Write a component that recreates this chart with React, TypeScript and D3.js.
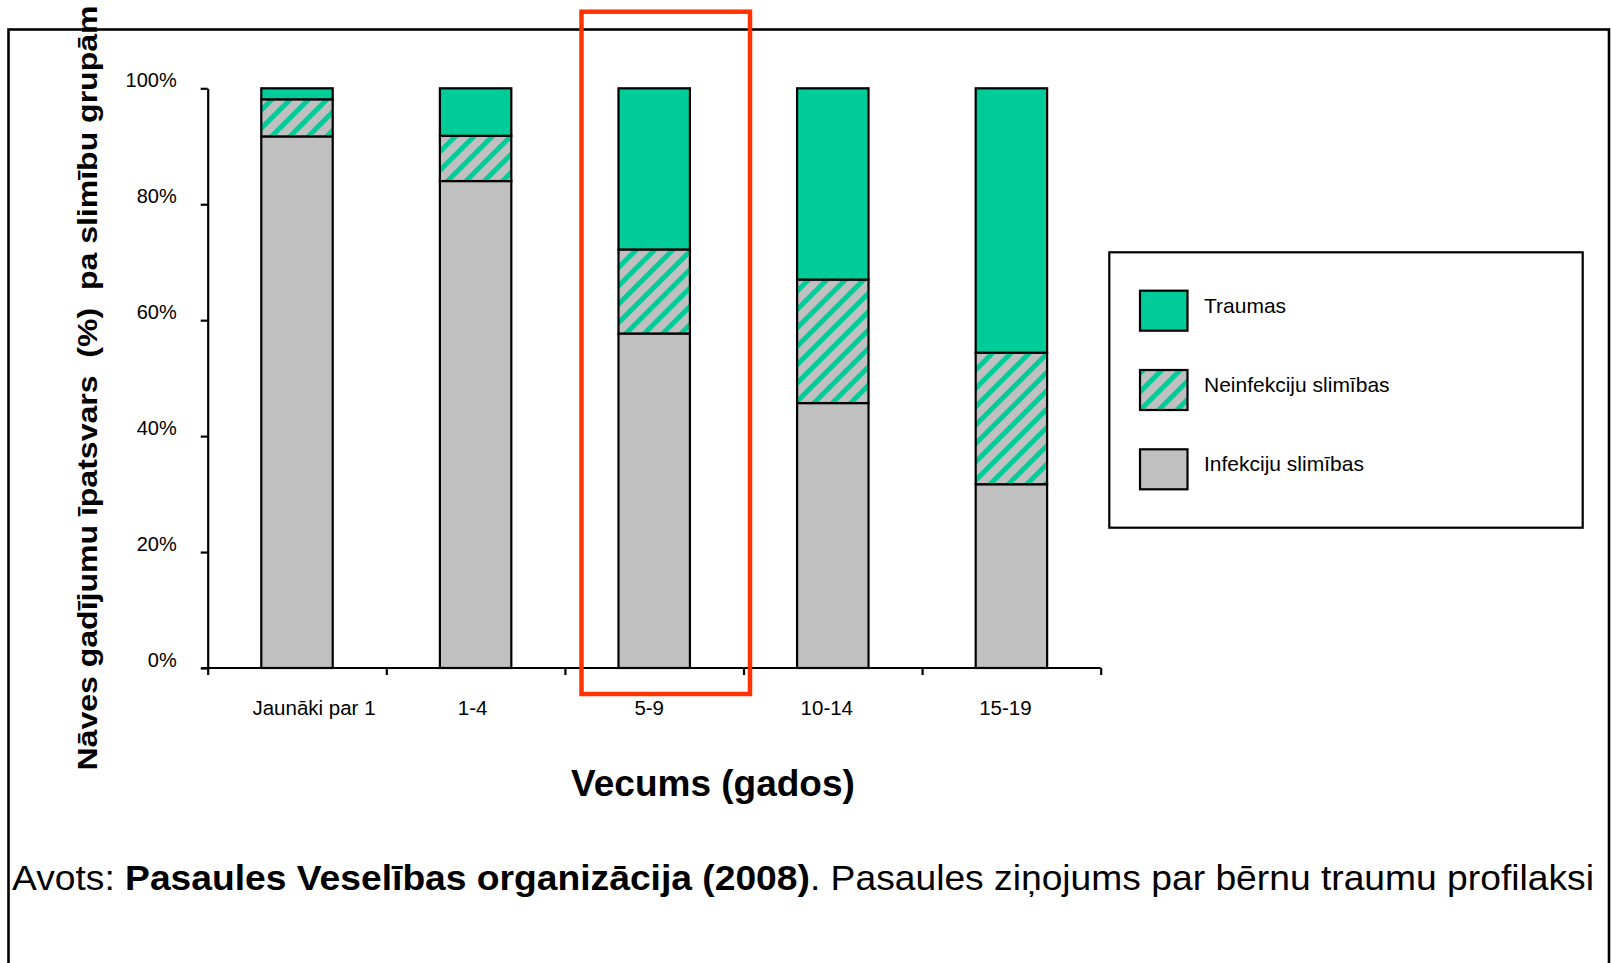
// react
import { useEffect, useRef } from "react";

// d3
import * as d3 from "d3";

const CATEGORIES = ["Jaunāki par 1", "1-4", "5-9", "10-14", "15-19"];
const INFEKCIJU = [91.7, 84.0, 57.7, 45.7, 31.7];
const NEINFEKCIJU = [6.4, 7.8, 14.5, 21.3, 22.7];
const TRAUMAS = [1.9, 8.2, 27.8, 33.0, 45.6];
const Y_TICKS = [0, 20, 40, 60, 80, 100];
const SERIES = ["Infekciju slimības", "Neinfekciju slimības", "Traumas"];
const LEGEND_ORDER = ["Traumas", "Neinfekciju slimības", "Infekciju slimības"];

const GREEN = "#00CC99";
const GRAY = "#C0C0C0";
const FONT = "'Liberation Sans', Arial, Helvetica, sans-serif";

// label nudges, as the labels sit in the original
const LABEL_DX = [17, -3, -5, -6, -6];

export default function App() {
  const ref = useRef<SVGSVGElement>(null);

  useEffect(() => {
    if (!ref.current) return;
    const svg = d3.select(ref.current);
    svg.selectAll("*").remove();

    const W = 1611;
    const H = 963;
    svg.attr("width", W).attr("height", H).attr("viewBox", `0 0 ${W} ${H}`);

    // hatch pattern
    const defs = svg.append("defs");
    const pat = defs
      .append("pattern")
      .attr("id", "hatch")
      .attr("patternUnits", "userSpaceOnUse")
      .attr("width", 13)
      .attr("height", 13)
      .attr("patternTransform", "rotate(45)");
    pat.append("rect").attr("width", 13).attr("height", 13).attr("fill", GRAY);
    pat.append("rect").attr("width", 5).attr("height", 13).attr("fill", GREEN);

    const colorOf = (k: string) =>
      k === "Traumas" ? GREEN : k === "Infekciju slimības" ? GRAY : "url(#hatch)";

    // outer frame
    svg
      .append("rect")
      .attr("x", 8.5)
      .attr("y", 29.5)
      .attr("width", 1600.5)
      .attr("height", 1000)
      .attr("fill", "none")
      .attr("stroke", "#000")
      .attr("stroke-width", 2.6);

    const left = 207.7;
    const right = 1100.7;
    const top = 88.3;
    const bottom = 668;

    const x = d3
      .scaleBand<string>()
      .domain(CATEGORIES)
      .range([left, right])
      .paddingInner(0.6)
      .paddingOuter(0.3);
    const y = d3.scaleLinear().domain([0, 100]).range([bottom, top]);

    const table = CATEGORIES.map((c, i) => ({
      cat: c,
      "Infekciju slimības": INFEKCIJU[i],
      "Neinfekciju slimības": NEINFEKCIJU[i],
      Traumas: TRAUMAS[i],
    }));
    const stacked = d3.stack<any>().keys(SERIES)(table);

    // bars
    stacked.forEach((layer) => {
      svg
        .append("g")
        .selectAll("rect")
        .data(layer)
        .join("rect")
        .attr("x", (d: any) => x(d.data.cat)!)
        .attr("y", (d) => y(d[1]))
        .attr("width", x.bandwidth())
        .attr("height", (d) => y(d[0]) - y(d[1]))
        .attr("fill", colorOf(layer.key))
        .attr("stroke", "#000")
        .attr("stroke-width", 2.2);
    });

    // y axis
    svg
      .append("g")
      .attr("transform", `translate(${left},0)`)
      .call(
        d3
          .axisLeft(y)
          .tickValues(Y_TICKS)
          .tickSize(7)
          .tickSizeOuter(0)
          .tickPadding(24)
          .tickFormat((d) => `${d}%`),
      )
      .call((a) => {
        a.select(".domain").attr("stroke", "#000").attr("stroke-width", 2.2);
        a.selectAll("line").attr("stroke", "#000").attr("stroke-width", 2.2);
        a.selectAll("text")
          .attr("dy", "-0.1em")
          .attr("font-size", 20)
          .attr("font-family", FONT)
          .attr("fill", "#000");
      });

    // x axis (ticks at band edges)
    const edges = d3.scaleLinear().domain([0, CATEGORIES.length]).range([left, right]);
    svg
      .append("g")
      .attr("transform", `translate(0,${bottom})`)
      .call(
        d3
          .axisBottom(edges)
          .tickValues(d3.range(CATEGORIES.length + 1))
          .tickSize(7)
          .tickSizeOuter(0)
          .tickFormat(() => ""),
      )
      .call((a) => {
        a.select(".domain")
          .attr("d", `M${left - 6},0H${right}`)
          .attr("stroke", "#000")
          .attr("stroke-width", 2.2);
        a.selectAll("line").attr("stroke", "#000").attr("stroke-width", 2.2);
      });

    // x category labels
    svg
      .append("g")
      .selectAll("text")
      .data(CATEGORIES)
      .join("text")
      .attr("x", (d, i) => x(d)! + x.bandwidth() / 2 + LABEL_DX[i])
      .attr("y", 715)
      .attr("text-anchor", "middle")
      .attr("font-size", 20.5)
      .attr("font-family", FONT)
      .attr("fill", "#000")
      .text((d) => d);

    // axis titles
    svg
      .append("text")
      .attr("x", 713)
      .attr("y", 796)
      .attr("text-anchor", "middle")
      .attr("font-size", 37)
      .attr("font-weight", "bold")
      .attr("font-family", FONT)
      .text("Vecums (gados)");

    svg
      .append("text")
      .attr("transform", "translate(97,388) rotate(-90)")
      .attr("text-anchor", "middle")
      .attr("font-size", 28)
      .attr("font-weight", "bold")
      .attr("font-family", FONT)
      .attr("textLength", 765)
      .attr("lengthAdjust", "spacingAndGlyphs")
      .style("white-space", "pre")
      .text("Nāves gadījumu īpatsvars  (%)  pa slimību grupām");

    // legend
    const lg = svg.append("g");
    lg.append("rect")
      .attr("x", 1109.3)
      .attr("y", 252.3)
      .attr("width", 473.4)
      .attr("height", 275.4)
      .attr("fill", "#fff")
      .attr("stroke", "#000")
      .attr("stroke-width", 2.2);
    const rows = lg
      .selectAll("g")
      .data(LEGEND_ORDER)
      .join("g")
      .attr("transform", (_, i) => `translate(1140,${290.7 + i * 79.3})`);
    rows
      .append("rect")
      .attr("width", 47.5)
      .attr("height", 40)
      .attr("fill", (d) => colorOf(d))
      .attr("stroke", "#000")
      .attr("stroke-width", 2.2);
    rows
      .append("text")
      .attr("x", 64)
      .attr("y", 22)
      .attr("font-size", 21)
      .attr("font-family", FONT)
      .attr("fill", "#000")
      .text((d) => d);

    // highlight frame around 5-9
    svg
      .append("rect")
      .attr("x", 581.5)
      .attr("y", 11.7)
      .attr("width", 168.5)
      .attr("height", 682.3)
      .attr("fill", "none")
      .attr("stroke", "#FF3300")
      .attr("stroke-width", 4.5);

    // source line
    const src = svg
      .append("text")
      .attr("x", 12)
      .attr("y", 890)
      .attr("font-size", 35)
      .attr("font-family", FONT)
      .attr("fill", "#000")
      .attr("textLength", 1582)
      .attr("lengthAdjust", "spacingAndGlyphs");
    src.append("tspan").text("Avots: ");
    src
      .append("tspan")
      .attr("font-weight", "bold")
      .text("Pasaules Veselības organizācija (2008)");
    src.append("tspan").text(". Pasaules ziņojums par bērnu traumu profilaksi");
  }, []);

  return (
    <div style={{ position: "absolute", left: 0, top: 0 }}>
      <svg ref={ref} style={{ display: "block" }} />
    </div>
  );
}
